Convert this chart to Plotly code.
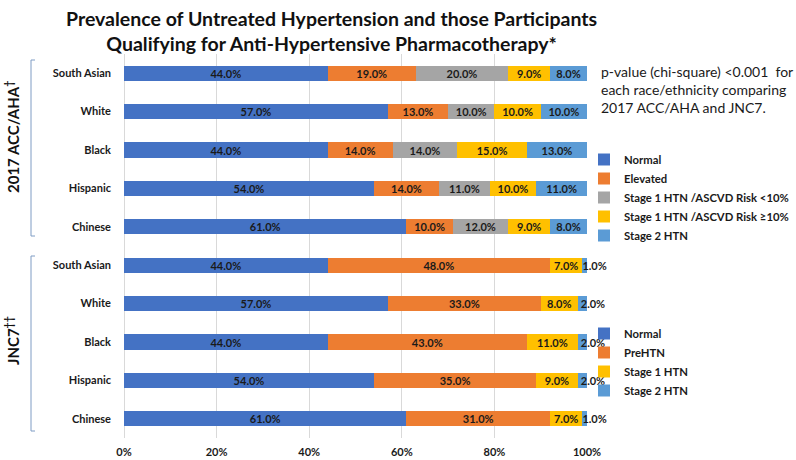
import plotly.graph_objects as go

races = ["South Asian", "White", "Black", "Hispanic", "Chinese"]

acc_names = ["Normal", "Elevated", "Stage 1 HTN /ASCVD Risk <10%",
             "Stage 1 HTN /ASCVD Risk \u226510%", "Stage 2 HTN"]
acc_normal = [44, 57, 44, 54, 61]
acc_elevated = [19, 13, 14, 14, 10]
acc_s1_low = [20, 10, 14, 11, 12]
acc_s1_high = [9, 10, 15, 10, 9]
acc_s2 = [8, 10, 13, 11, 8]

jnc_names = ["Normal", "PreHTN", "Stage 1 HTN", "Stage 2 HTN"]
jnc_normal = [44, 57, 44, 54, 61]
jnc_pre = [48, 33, 43, 35, 31]
jnc_s1 = [7, 8, 11, 9, 7]
jnc_s2 = [1, 2, 2, 2, 1]

tick_vals = [0, 20, 40, 60, 80, 100]

C_BLUE = "#4472C4"
C_ORANGE = "#ED7D31"
C_GRAY = "#A5A5A5"
C_YELLOW = "#FFC000"
C_LBLUE = "#5B9BD5"

W, H = 796, 460
ML, MR, MT, MB = 124, 209, 54, 22
PW = W - ML - MR
PH = H - MT - MB


def px(x):
    return (x - ML) / PW


def py(y):
    return 1 - (y - MT) / PH


FONT = "Lato, Open Sans, sans-serif"
TXT = "#1a1a1a"

fig = go.Figure()

acc_series = [acc_normal, acc_elevated, acc_s1_low, acc_s1_high, acc_s2]
acc_colors = [C_BLUE, C_ORANGE, C_GRAY, C_YELLOW, C_LBLUE]
for name, vals, col in zip(acc_names, acc_series, acc_colors):
    fig.add_trace(go.Bar(
        y=races, x=vals, name=name, orientation="h",
        marker=dict(color=col, line=dict(width=0)),
        text=[f"{v:.1f}%" for v in vals], textposition="inside",
        insidetextanchor="middle", textangle=0, constraintext="none",
        textfont=dict(family=FONT, size=11, color=TXT, weight="bold"),
        xaxis="x", yaxis="y", legend="legend", hoverinfo="skip",
    ))

jnc_series = [jnc_normal, jnc_pre, jnc_s1, jnc_s2]
jnc_colors = [C_BLUE, C_ORANGE, C_YELLOW, C_LBLUE]
jnc_anchor = ["middle", "middle", "middle", "start"]
for name, vals, col, anc in zip(jnc_names, jnc_series, jnc_colors, jnc_anchor):
    fig.add_trace(go.Bar(
        y=races, x=vals, name=name, orientation="h",
        marker=dict(color=col, line=dict(width=0)),
        text=[f"{v:.1f}%" for v in vals], textposition="inside",
        insidetextanchor=anc, textangle=0, constraintext="none",
        textfont=dict(family=FONT, size=11, color=TXT, weight="bold"),
        cliponaxis=False,
        xaxis="x", yaxis="y2", legend="legend2", hoverinfo="skip",
    ))

yaxis_common = dict(
    type="category", categoryorder="array", categoryarray=races[::-1],
    showgrid=False, zeroline=False, showline=False, ticks="",
    ticklabelstandoff=12,
    tickfont=dict(family=FONT, size=11, color=TXT, weight="bold"),
    fixedrange=True,
)

legend_common = dict(
    xanchor="left", yanchor="top",
    traceorder="normal", bgcolor="rgba(0,0,0,0)",
    font=dict(family=FONT, size=11.3, color=TXT, weight="bold"),
    itemwidth=30, tracegroupgap=0,
)

fig.update_layout(
    width=W, height=H,
    margin=dict(l=ML, r=MR, t=MT, b=MB, autoexpand=False),
    paper_bgcolor="white", plot_bgcolor="white",
    barmode="stack", bargap=0.6,
    xaxis=dict(
        anchor="y2", domain=[0, 1], range=[0, 100],
        tickvals=tick_vals, ticktext=[f"{v}%" for v in tick_vals],
        showgrid=True, gridcolor="#D9D9D9", gridwidth=1,
        zeroline=True, zerolinecolor="#D9D9D9", zerolinewidth=1,
        showline=False, ticks="", ticklabelstandoff=6,
        tickfont=dict(family=FONT, size=11, color=TXT, weight="bold"),
        fixedrange=True,
    ),
    yaxis=dict(domain=[0.5, 1], **yaxis_common),
    yaxis2=dict(domain=[0, 0.5], **yaxis_common),
    legend=dict(x=px(584), y=py(145), **legend_common),
    legend2=dict(x=px(584), y=py(319), **legend_common),
    showlegend=True,
)

# Title
fig.add_annotation(
    xref="paper", yref="paper", x=px(331), y=py(31),
    xanchor="center", yanchor="middle", showarrow=False,
    text="Prevalence of Untreated Hypertension and those Participants<br>"
         "Qualifying for Anti-Hypertensive Pharmacotherapy*",
    font=dict(family=FONT, size=19.5, color="#111111", weight="bold"),
)

# p-value note
fig.add_annotation(
    xref="paper", yref="paper", x=px(599), y=py(89),
    xanchor="left", yanchor="middle", align="left", showarrow=False,
    text="p-value (chi-square) &lt;0.001\u00a0\u00a0for<br>each race/ethnicity comparing<br>2017 ACC/AHA and JNC7.",
    font=dict(family=FONT, size=14, color=TXT),
)

# Group labels
fig.add_annotation(
    xref="paper", yref="paper", x=px(12), y=py(137),
    xanchor="center", yanchor="middle", showarrow=False, textangle=-90,
    text="2017 ACC/AHA<sup>\u2020</sup>",
    font=dict(family=FONT, size=15, color="#111111", weight="bold"),
)
fig.add_annotation(
    xref="paper", yref="paper", x=px(12), y=py(341),
    xanchor="center", yanchor="middle", showarrow=False, textangle=-90,
    text="JNC7<sup>\u2020\u2020</sup>",
    font=dict(family=FONT, size=15, color="#111111", weight="bold"),
)

# Brackets
BR = "#7F9CC4"
for top, bot in [(60, 236), (256, 431)]:
    fig.add_shape(type="path", xref="paper", yref="paper",
                  path=f"M {px(35)},{py(top)} L {px(31)},{py(top)} L {px(31)},{py(bot)} L {px(35)},{py(bot)}",
                  line=dict(color=BR, width=1))

fig.write_html("out.html", config={"displayModeBar": False},
               post_script="document.body.style.margin='0px';")
